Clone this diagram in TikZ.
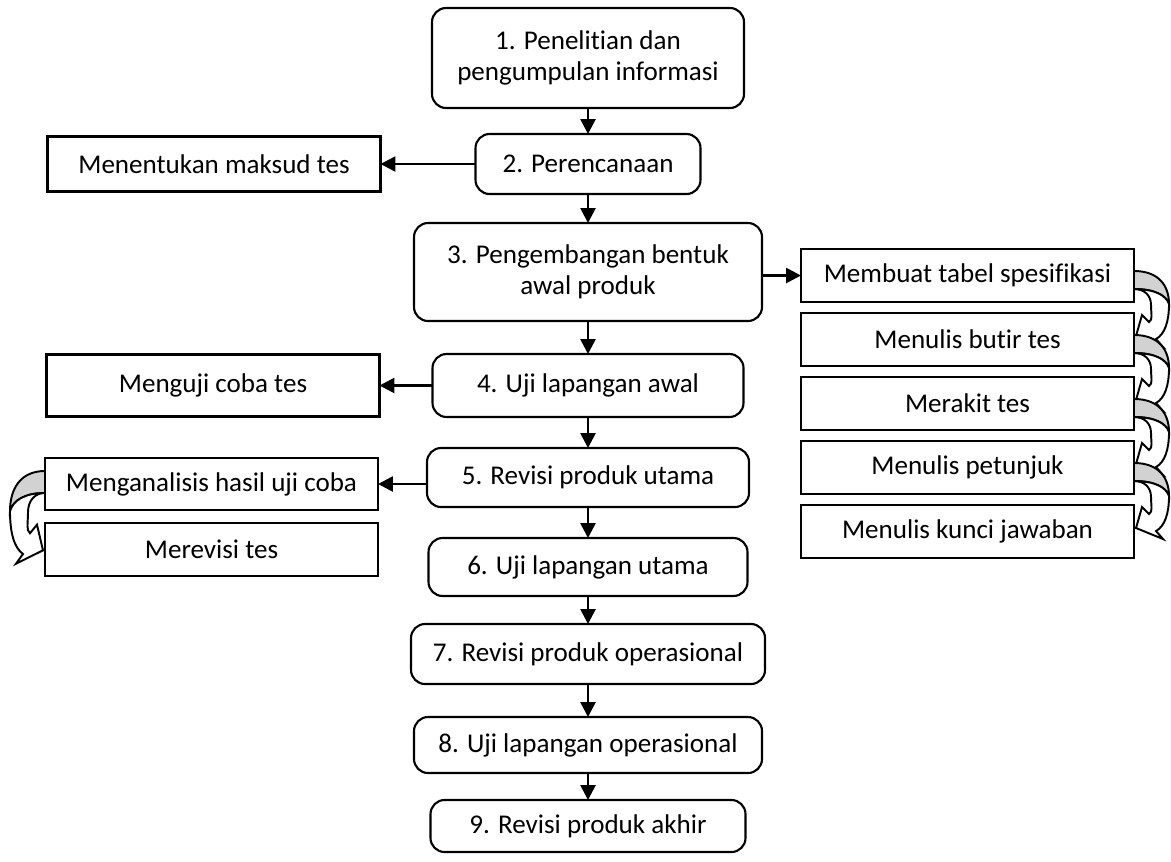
\documentclass[tikz,border=0pt]{standalone}
\usepackage{fontspec}
\setmainfont{Carlito}[Ligatures=NoCommon]
\usetikzlibrary{positioning,arrows.meta,calc}

\tikzset{
  bentarrow/.pic={
    \filldraw[fill=gray!35, line width=1.1pt] (0,0) .. controls (25,0) and (35,-15) .. (35,-33)
        .. controls (32,-24) and (20,-18) .. (0,-18) -- cycle;
    \filldraw[fill=white, line width=1.1pt] (0,-18) .. controls (10,-18) and (17,-24) .. (17,-34)
        .. controls (17,-43) and (19,-48.5) .. (15,-51) -- (8,-44) -- (2,-65)
        -- (29,-76) -- (22,-68) .. controls (31,-63) and (35,-50) .. (35,-33)
        .. controls (32,-24) and (20,-18) .. (0,-18) -- cycle;
  }
}

\begin{document}
\begin{tikzpicture}[
    roundbox/.style={rectangle, rounded corners=8pt, draw, line width=1.2pt, align=center, inner sep=2pt, outer sep=0pt},
    squarebox/.style={rectangle, draw, line width=1.2pt, minimum width=6.66cm, inner sep=2pt, outer sep=0pt},
    >={Triangle[length=8.5pt,width=8.5pt]},
    font=\fontsize{15.4}{17.5}\selectfont,
    ]
\useasboundingbox (0,0) rectangle (23.42,-17.22);

%Main steps
\node[roundbox, minimum width=6.24cm, minimum height=2cm]    (b1) at (11.76,-1.16)      {1. Penelitian dan\\pengumpulan informasi};
\node[roundbox, minimum width=4.5cm, minimum height=1.2cm]   (b2) [below=0.52cm of b1] {2. Perencanaan};
\node[roundbox, minimum width=6.96cm, minimum height=1.96cm] (b3) [below=0.58cm of b2] {3. Pengembangan bentuk\\awal produk};
\node[roundbox, minimum width=6.22cm, minimum height=1.26cm] (b4) [below=0.66cm of b3] {4. Uji lapangan awal};
\node[roundbox, minimum width=6.44cm, minimum height=1.18cm] (b5) [below=0.62cm of b4] {5. Revisi produk utama};
\node[roundbox, minimum width=6.38cm, minimum height=1.16cm] (b6) [below=0.62cm of b5] {6. Uji lapangan utama};
\node[roundbox, minimum width=7.08cm, minimum height=1.2cm]  (b7) [below=0.56cm of b6] {7. Revisi produk operasional};
\node[roundbox, minimum width=6.96cm, minimum height=1.12cm] (b8) [below=0.66cm of b7] {8. Uji lapangan operasional};
\node[roundbox, minimum width=6.3cm, minimum height=1.04cm]  (b9) [below=0.54cm of b8] {9. Revisi produk akhir};

%Left side
\node[squarebox, minimum height=1.1cm]  (maksud)   [left=1.9cm of b2]  {Menentukan maksud tes};
\node[squarebox, minimum height=1.24cm] (ujicoba)  [left=1.06cm of b4] {Menguji coba tes};
\node[squarebox, minimum height=1.04cm] (analisis) [left=0.98cm of b5, yshift=-0.13cm] {Menganalisis hasil uji coba};
\node[squarebox, minimum height=1.06cm] (revisi)   [below=0.26cm of analisis] {Merevisi tes};

%Right side
\node[squarebox, minimum height=1.06cm] (tabel)    [right=0.78cm of b3, yshift=-0.07cm] {Membuat tabel spesifikasi};
\node[squarebox, minimum height=1.06cm] (butir)    [below=0.22cm of tabel]    {Menulis butir tes};
\node[squarebox, minimum height=1.06cm] (rakit)    [below=0.22cm of butir]    {Merakit tes};
\node[squarebox, minimum height=1.06cm] (petunjuk) [below=0.22cm of rakit]    {Menulis petunjuk};
\node[squarebox, minimum height=1.06cm] (kunci)    [below=0.22cm of petunjuk] {Menulis kunci jawaban};

%Lines
\path[->, line width=1.5pt]
(b1) edge (b2)
(b2) edge (b3)
(b3) edge (b4)
(b4) edge (b5)
(b5) edge (b6)
(b6) edge (b7)
(b7) edge (b8)
(b8) edge (b9)
(b2) edge (maksud)
(b4) edge (ujicoba)
(b5.west |- analisis) edge (analisis)
(b3.east |- tabel) edge (tabel);

%Bent arrows
\foreach \a in {tabel,butir,rakit,petunjuk}
    \pic[scale=0.02] at ($(\a.east)+(0,0.09)$) {bentarrow};
\pic[xscale=-0.02, yscale=0.0244] at ($(analisis.west)+(0,0.26)$) {bentarrow};
\end{tikzpicture}
\end{document}
